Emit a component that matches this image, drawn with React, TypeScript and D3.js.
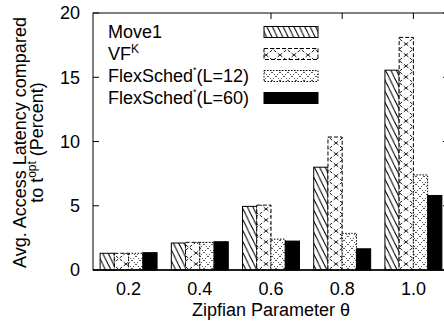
import React from "react";
import * as d3 from "d3";

const categories = ["0.2", "0.4", "0.6", "0.8", "1.0"];
const move1 = [1.3, 2.1, 4.95, 8.0, 15.55];
const vfk = [1.3, 2.15, 5.05, 10.35, 18.1];
const flex12 = [1.3, 2.15, 2.4, 2.85, 7.4];
const flex60 = [1.35, 2.2, 2.25, 1.65, 5.8];
const yTicks = [0, 5, 10, 15, 20];
const seriesNames = ["Move1", "VF", "FlexSched", "FlexSched"];

const W = 444;
const H = 326;
const FONT = "'Liberation Sans', Arial, Helvetica, sans-serif";
const FS = 18;

export default function App() {
  const x = d3.scaleLinear().domain([-0.5, categories.length - 0.5]).range([93, 449]);
  const y = d3.scaleLinear().domain([0, 20]).range([270, 13]);
  const barW = x(0.2) - x(0);
  const series = [move1, vfk, flex12, flex60];
  const fills = ["url(#pMove)", "url(#pVF)", "url(#pFlex)", "#000"];
  const dashes = ["none", "4,2", "1.5,1.5", "none"];
  const legendRows = [32, 54, 76, 98];

  const renderLabel = (i: number) => {
    if (i === 0) return <tspan>{seriesNames[0]}</tspan>;
    if (i === 1)
      return (
        <>
          <tspan>{seriesNames[1]}</tspan>
          <tspan fontSize={12} dy={-7}>K</tspan>
        </>
      );
    return (
      <>
        <tspan>{seriesNames[i]}</tspan>
        <tspan fontSize={9} dy={-9}>*</tspan>
        <tspan dy={9}>{i === 2 ? "(L=12)" : "(L=60)"}</tspan>
      </>
    );
  };

  return (
    <svg
      width={W}
      height={H}
      style={{ position: "absolute", left: 0, top: 0, background: "#fff" }}
      fontFamily={FONT}
    >
      <defs>
        <pattern id="pMove" patternUnits="userSpaceOnUse" width={5.4} height={11}>
          <rect width={5.4} height={11} fill="#fff" />
          <path d="M0,0 L5.4,11 M-5.4,0 L0,11 M5.4,0 L10.8,11" stroke="#000" strokeWidth={1} />
        </pattern>
        <pattern id="pVF" patternUnits="userSpaceOnUse" width={14} height={11}>
          <rect width={14} height={11} fill="#fff" />
          <path d="M0,0 L14,11 M14,0 L0,11" stroke="#000" strokeWidth={0.9} strokeDasharray="3,2" />
        </pattern>
        <pattern id="pFlex" patternUnits="userSpaceOnUse" width={8} height={8}>
          <rect width={8} height={8} fill="#fff" />
          <path d="M0,0 L8,8 M8,0 L0,8" stroke="#000" strokeWidth={0.8} strokeDasharray="1.2,1.6" />
        </pattern>
      </defs>

      {/* bars */}
      {series.map((vals, si) =>
        vals.map((v, ci) => (
          <rect
            key={`b${si}-${ci}`}
            x={x(ci - 0.4 + si * 0.2)}
            y={y(v)}
            width={barW}
            height={y(0) - y(v)}
            fill={fills[si]}
            stroke="#000"
            strokeWidth={1}
            strokeDasharray={dashes[si]}
          />
        ))
      )}

      {/* frame */}
      <rect x={x(-0.5)} y={y(20)} width={x(4.5) - x(-0.5)} height={y(0) - y(20)} fill="none" stroke="#000" strokeWidth={1} />
      <line x1={x(-0.5)} x2={x(4.5)} y1={y(0)} y2={y(0)} stroke="#000" strokeWidth={1.5} />

      {/* y ticks */}
      {yTicks.map((t) => (
        <g key={`yt${t}`}>
          <line x1={x(-0.5)} x2={x(-0.5) + 6} y1={y(t)} y2={y(t)} stroke="#000" />
          <line x1={x(4.5)} x2={x(4.5) - 6} y1={y(t)} y2={y(t)} stroke="#000" />
          <text x={80} y={y(t)} dy="0.36em" textAnchor="end" fontSize={FS}>
            {t}
          </text>
        </g>
      ))}

      {/* x ticks */}
      {categories.map((c, i) => (
        <g key={`xt${i}`}>
          {i >= 2 && <line x1={x(i)} x2={x(i)} y1={y(20)} y2={y(20) + 6} stroke="#000" />}
          <text x={x(i)} y={295} textAnchor="middle" fontSize={FS}>
            {c}
          </text>
        </g>
      ))}

      {/* axis labels */}
      <text x={(x(-0.5) + x(4.5)) / 2} y={316} textAnchor="middle" fontSize={FS}>
        Zipfian Parameter θ
      </text>
      <g transform={`translate(0, ${(y(0) + y(20)) / 2 + 1}) rotate(-90)`}>
        <text x={0} y={26} textAnchor="middle" fontSize={FS}>
          Avg. Access Latency compared
        </text>
        <text x={0} y={43} textAnchor="middle" fontSize={FS}>
          <tspan>to t</tspan>
          <tspan fontSize={12} dy={-7}>opt</tspan>
          <tspan dy={7}> (Percent)</tspan>
        </text>
      </g>

      {/* legend */}
      {legendRows.map((ry, i) => (
        <g key={`lg${i}`}>
          <text x={108} y={ry} dy="0.36em" fontSize={FS}>
            {renderLabel(i)}
          </text>
          <rect
            x={264}
            y={ry - 5.5}
            width={54}
            height={11}
            fill={fills[i]}
            stroke="#000"
            strokeWidth={1}
            strokeDasharray={dashes[i]}
          />
        </g>
      ))}
    </svg>
  );
}
